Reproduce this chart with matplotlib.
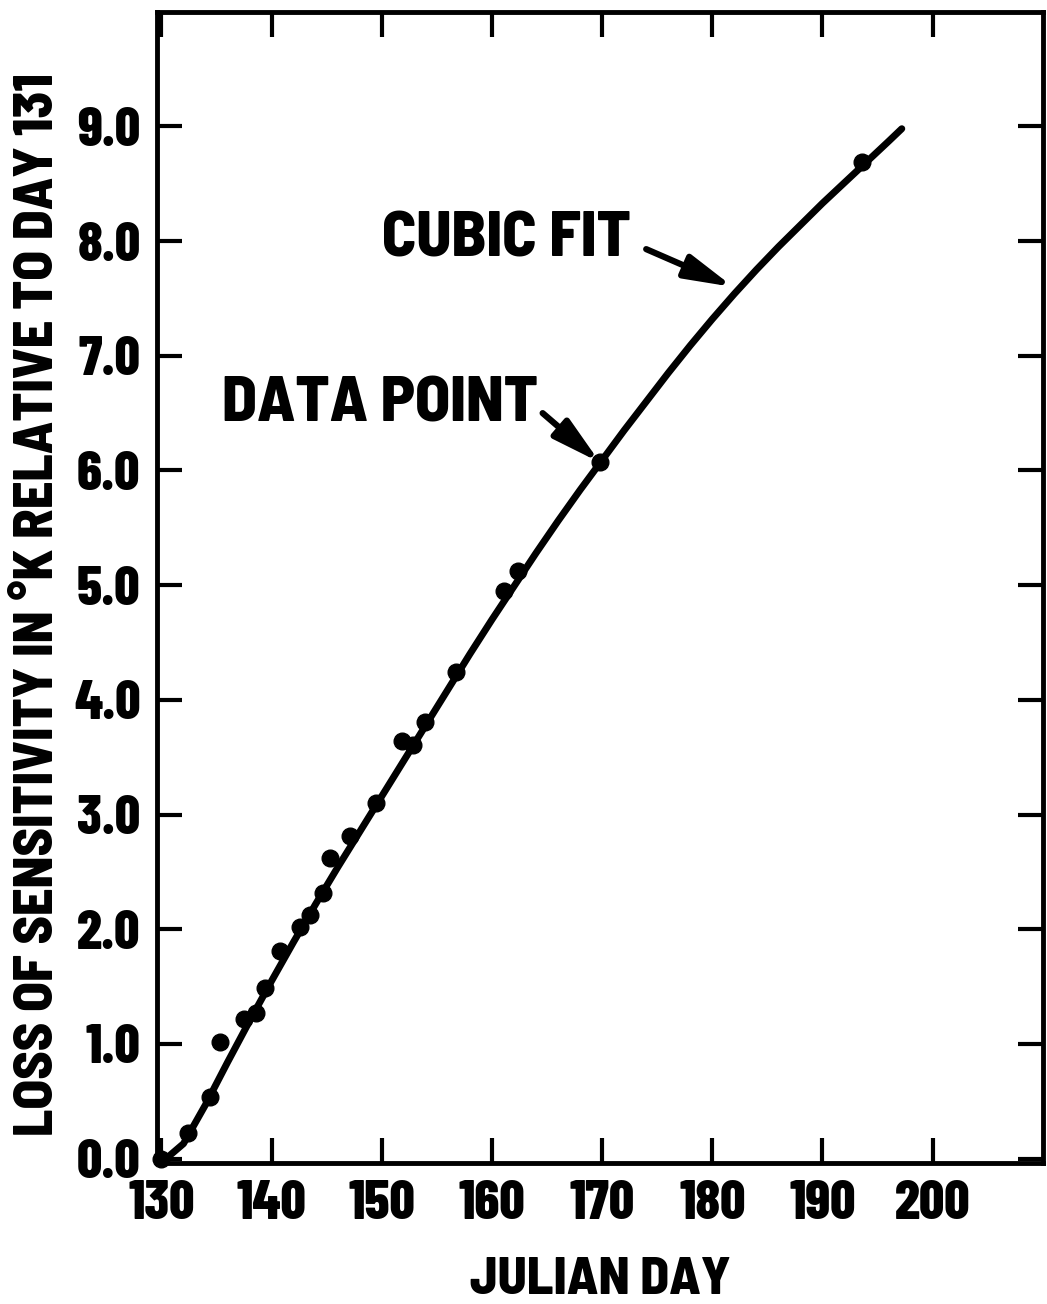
import matplotlib
matplotlib.use("Agg")
import matplotlib.pyplot as plt
from matplotlib.ticker import FormatStrFormatter

# Points mesurés (jour julien, perte de sensibilité en K)
days = [130.0, 132.4, 134.4, 135.3, 137.5, 138.6, 139.4, 140.8, 142.6, 143.5,
        144.7, 145.3, 147.1, 149.5, 151.8, 152.8, 153.9, 156.7, 161.1, 162.4,
        169.8, 193.6]
loss = [0.00, 0.22, 0.54, 1.02, 1.22, 1.27, 1.49, 1.81, 2.02, 2.12,
        2.32, 2.62, 2.81, 3.10, 3.64, 3.61, 3.81, 4.24, 4.95, 5.12,
        6.07, 8.69]

# Courbe "cubic fit"
fit_days = [130.3, 132, 134, 136, 138, 140, 142, 144, 146, 148, 150, 152, 154,
            156, 158, 160, 162, 164, 166, 168, 170, 172, 174, 176, 178, 180,
            182, 184, 186, 188, 190, 192, 194, 196, 197.2]
fit_loss = [-0.01, 0.13, 0.47, 0.84, 1.20, 1.55, 1.89, 2.22, 2.54, 2.85, 3.16,
            3.47, 3.78, 4.09, 4.40, 4.70, 4.99, 5.28, 5.56, 5.83, 6.09, 6.35,
            6.60, 6.85, 7.09, 7.32, 7.54, 7.75, 7.95, 8.14, 8.33, 8.51, 8.69,
            8.87, 8.98]

x_ticks = [130, 140, 150, 160, 170, 180, 190, 200]
y_ticks = [0, 1, 2, 3, 4, 5, 6, 7, 8, 9]

plt.rcParams['font.family'] = ['Barlow Condensed', 'DejaVu Sans']
plt.rcParams['font.weight'] = 800
semi = ['Barlow Semi Condensed', 'Barlow Condensed', 'DejaVu Sans']

fig = plt.figure(figsize=(10.47, 13.04), dpi=100)
ax = fig.add_axes([0.150, 0.108, 0.846, 0.883])

ax.plot(fit_days, fit_loss, color="black", linewidth=5, solid_capstyle="round",
        clip_on=False, zorder=3)
ax.plot(days, loss, "o", color="black", markersize=12, clip_on=False, zorder=4)

ax.set_xlim(129.6, 210)
ax.set_ylim(-0.04, 10.0)
ax.set_xticks(x_ticks)
ax.set_yticks(y_ticks)
ax.yaxis.set_major_formatter(FormatStrFormatter("%.1f"))

for s in ax.spines.values():
    s.set_linewidth(3.5)
ax.tick_params(direction="in", length=18, width=3, top=True, right=True,
               labelsize=40, pad=12)

ax.set_xlabel("JULIAN DAY", fontsize=38, fontweight=800, labelpad=20,
              family=semi)
ax.set_ylabel("LOSS OF SENSITIVITY IN °K RELATIVE TO DAY 131", fontsize=39,
              fontweight=800, family=semi)
ax.yaxis.set_label_coords(-0.106, 0.485)

# textes et flèches
ax.text(161.3, 8.01, "CUBIC FIT", fontsize=46, fontweight=800, family=semi,
        ha="center", va="center")
ax.text(149.8, 6.57, "DATA POINT", fontsize=46, fontweight=800, family=semi,
        ha="center", va="center")

arrow = dict(arrowstyle="-|>,head_length=1.1,head_width=0.28", color="black",
             lw=4.5, mutation_scale=26, shrinkA=0, shrinkB=0)
ax.annotate("", xy=(181.9, 7.60), xytext=(174.0, 7.93), arrowprops=arrow)
ax.annotate("", xy=(169.8, 6.07), xytext=(164.6, 6.50), arrowprops=arrow)

plt.savefig("out.png", dpi=100)
